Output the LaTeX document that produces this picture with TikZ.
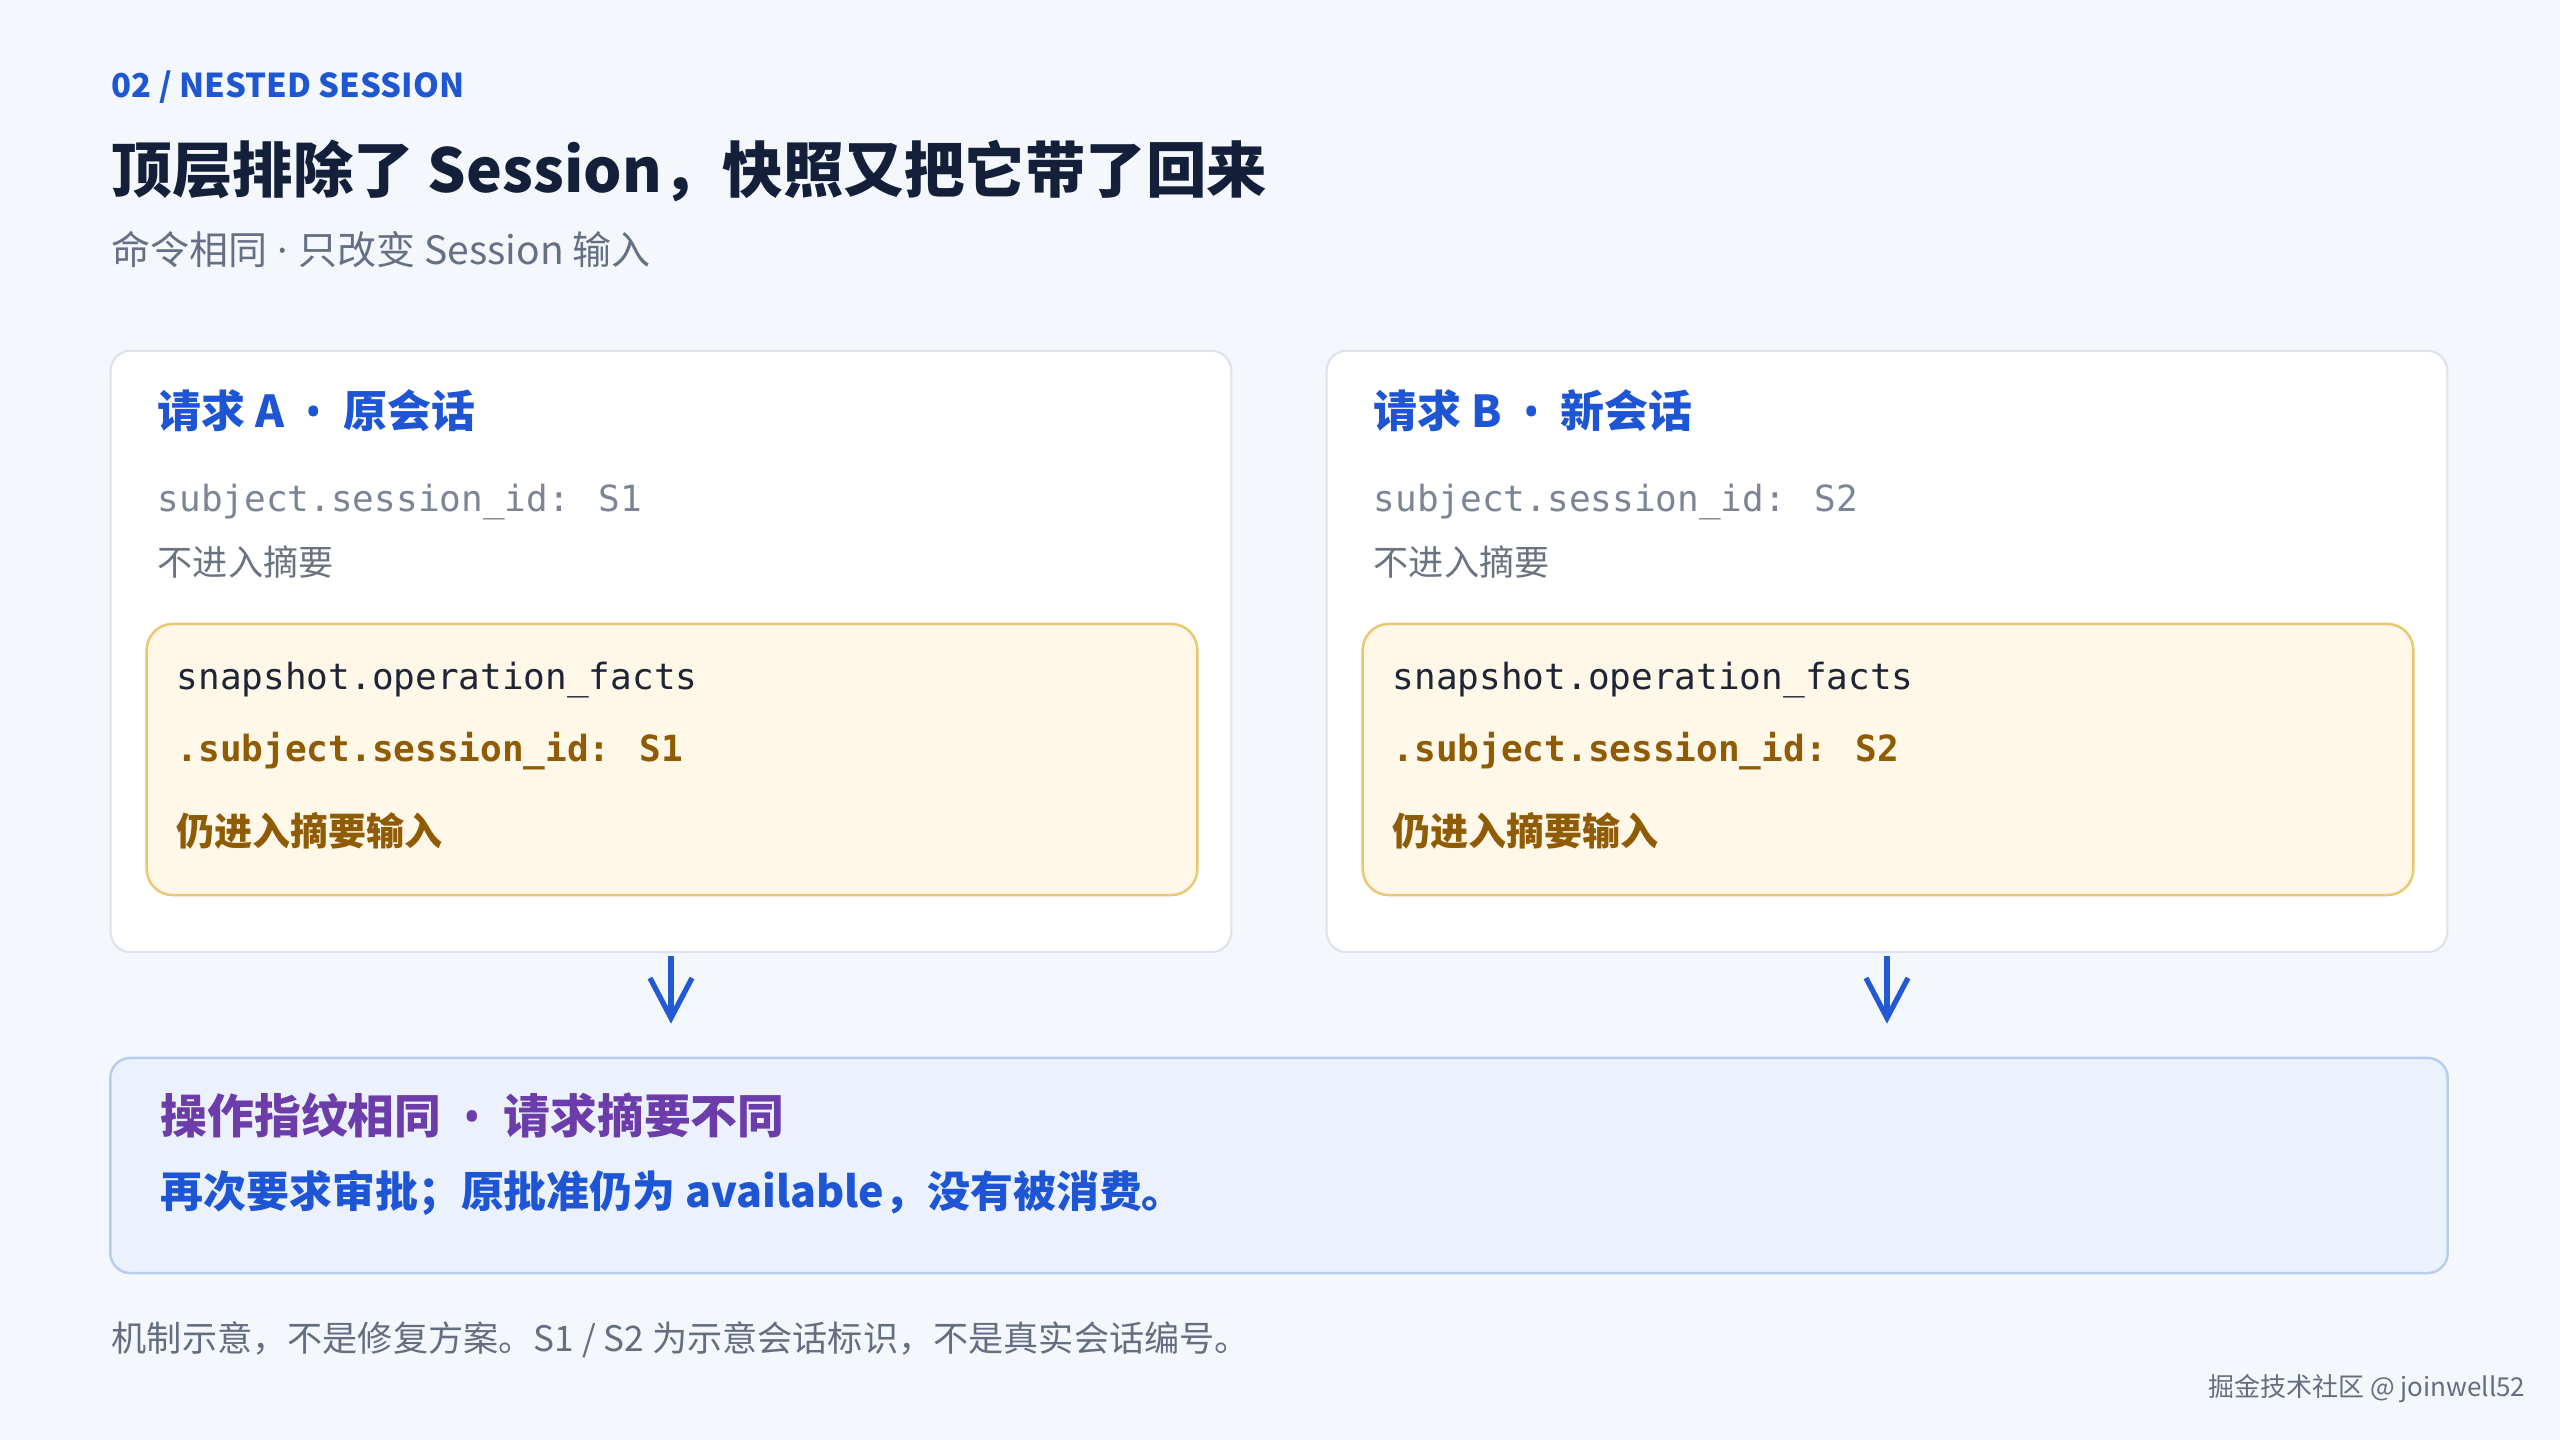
\documentclass[tikz,border=0pt]{standalone}
\usepackage{fontspec}
\setmainfont{Noto Sans CJK SC}
\newfontfamily\codefont{DejaVu Sans Mono}
\newfontfamily\latinfont{Noto Sans}
\usetikzlibrary{arrows.meta,positioning,calc}
\definecolor{pagebg}{HTML}{F4F8FD}
\definecolor{kicker}{HTML}{1F56D2}
\definecolor{navy}{HTML}{14203A}
\definecolor{subgray}{HTML}{667085}
\definecolor{cardline}{HTML}{DCE3EE}
\definecolor{blueT}{HTML}{1D55D4}
\definecolor{codegray}{HTML}{7C8595}
\definecolor{notegray}{HTML}{6B7280}
\definecolor{snapfill}{HTML}{FFF8E8}
\definecolor{snapline}{HTML}{EBC772}
\definecolor{snaptext}{HTML}{1E2536}
\definecolor{brown}{HTML}{8F5B04}
\definecolor{arrowblue}{HTML}{2459D6}
\definecolor{sumfill}{HTML}{EBF2FD}
\definecolor{sumline}{HTML}{B8CCEE}
\definecolor{purpleT}{HTML}{6B3CAA}
\definecolor{footgray}{HTML}{646E80}
\newcommand{\sz}[1]{\fontsize{#1}{#1}\selectfont}
\newcommand{\dotsep}{{\latinfont\hspace{0.48em}•\hspace{0.48em}}}
\newcommand{\middot}{{\latinfont\ ·\ }}

\begin{document}
\begin{tikzpicture}[x=0.01cm,y=-0.01cm]
\tikzset{txt/.style={anchor=west, inner sep=0pt}}
\tikzset{card/.style={rectangle, rounded corners=0.2cm, draw=cardline, line width=0.6pt, fill=white, minimum width=11.2cm, minimum height=6.01cm}}
\tikzset{snap/.style={rectangle, rounded corners=0.26cm, draw=snapline, line width=0.7pt, fill=snapfill, minimum width=10.5cm, minimum height=2.71cm}}
\tikzset{sumbox/.style={rectangle, rounded corners=0.2cm, draw=sumline, line width=0.7pt, fill=sumfill, minimum width=23.36cm, minimum height=2.15cm}}
\tikzset{flow/.style={draw=arrowblue, line width=1.5pt, -{Straight Barb[length=0.4cm, width=0.42cm]}}}

\fill[pagebg] (0,0) rectangle (2560,1440);
\useasboundingbox (0,0) rectangle (2560,1440);

% header
\node[txt, text=kicker, font=\sz{9.35}\bfseries] (kick) at (111,87) {02 / NESTED SESSION};
\node[txt, text=navy, font=\sz{17.2}\bfseries] (title) at (111,171) {顶层排除了 Session，快照又把它带了回来};
\node[txt, text=subgray, font=\sz{11.1}] (sub) at (111,250) {命令相同\middot 只改变 Session 输入};

% request cards
\node[card] (cardA) at (671,651.5) {};
\node[card] (cardB) at (1887,651.5) {};
\node[snap] (snapA) at (672,759.5) {};
\node[snap] (snapB) at (1888,759.5) {};

\node[txt, text=blueT, font=\sz{12.5}\bfseries] (headA) at (157,411) {请求 A\dotsep 原会话};
\node[txt, text=codegray, font=\sz{10.25}\codefont] (idA) at (157,502) {subject.session\_id: S1};
\node[txt, text=notegray, font=\sz{10}] (noteA) at (157,562) {不进入摘要};
\node[txt, text=snaptext, font=\sz{10.25}\codefont] (factA) at (176,680) {snapshot.operation\_facts};
\node[txt, text=brown, font=\sz{10.25}\codefont\bfseries] (subjA) at (176,751) {.subject.session\_id: S1};
\node[txt, text=brown, font=\sz{10.8}\bfseries] (inA) at (176,831) {仍进入摘要输入};

\node[txt, text=blueT, font=\sz{12.5}\bfseries] (headB) at (1373,411) {请求 B\dotsep 新会话};
\node[txt, text=codegray, font=\sz{10.25}\codefont] (idB) at (1373,502) {subject.session\_id: S2};
\node[txt, text=notegray, font=\sz{10}] (noteB) at (1373,562) {不进入摘要};
\node[txt, text=snaptext, font=\sz{10.25}\codefont] (factB) at (1392,680) {snapshot.operation\_facts};
\node[txt, text=brown, font=\sz{10.25}\codefont\bfseries] (subjB) at (1392,751) {.subject.session\_id: S2};
\node[txt, text=brown, font=\sz{10.8}\bfseries] (inB) at (1392,831) {仍进入摘要输入};

% summary
\node[sumbox] (sum) at (1279,1165.5) {};
\node[txt, text=purpleT, font=\sz{13.3}\bfseries] (sumhead) at (160,1115) {操作指纹相同\dotsep 请求摘要不同};
\node[txt, text=blueT, font=\sz{12.2}\bfseries] (sumtext) at (160,1193) {再次要求审批；原批准仍为 available，没有被消费。};

\draw[flow, shorten <=0.03cm, shorten >=0.33cm] (cardA.south) -- (cardA.south |- sum.north);
\draw[flow, shorten <=0.03cm, shorten >=0.33cm] (cardB.south) -- (cardB.south |- sum.north);

% footer
\node[txt, text=footgray, font=\sz{10}] (foot) at (111,1340) {机制示意，不是修复方案。S1 / S2 为示意会话标识，不是真实会话编号。};
\node[anchor=east, inner sep=0pt, text=footgray, font=\sz{7.4}] (mark) at (2526,1389) {掘金技术社区 @ joinwell52};
\end{tikzpicture}
\end{document}
